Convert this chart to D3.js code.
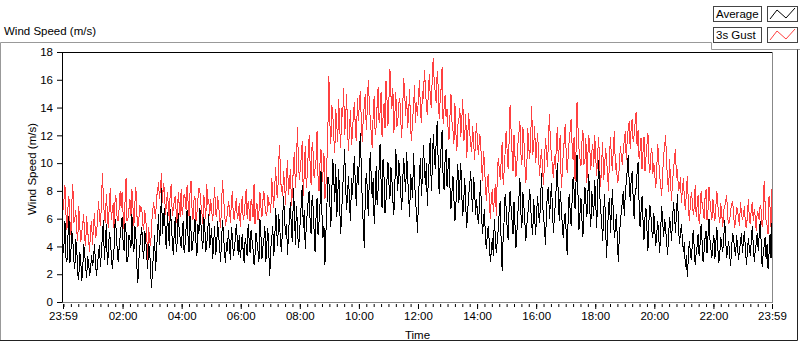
<!DOCTYPE html>
<html>
<head>
<meta charset="utf-8">
<script src="https://cdn.jsdelivr.net/npm/d3@7"></script>
<style>
  body { margin: 0; background: #fff; }
  svg text { font-family: "Liberation Sans", Arial, sans-serif; font-size: 11.5px; fill: #000; }
</style>
</head>
<body>
<div id="chart"></div>
<script>
// Wind speed log, one sample every 2 minutes from 23:59 to 23:59
var sampleMinutes = 2;

// Average wind speed (m/s), one row per hour
var avgSpeed = [
  3.5, 4.1, 5.8, 3.2, 2.9, 4.7, 6.2, 2.8, 3.6, 5.1, 4.4, 3.0, 2.4, 4.5, 3.8, 2.0, 1.6, 3.6, 3.1, 1.5, 2.2, 4.2, 3.5, 2.6, 1.7, 3.3, 2.8, 1.9, 2.3, 3.4,
  2.6, 3.1, 4.2, 2.8, 1.9, 2.7, 3.4, 4.1, 2.5, 3.6, 4.8, 5.9, 3.0, 4.3, 5.6, 2.7, 3.3, 5.0, 4.6, 3.5, 2.4, 3.2, 4.0, 6.0, 5.2, 3.8, 2.9, 3.9, 4.7, 5.5,
  6.1, 4.4, 3.7, 5.7, 5.0, 2.9, 3.2, 4.8, 4.5, 3.9, 6.3, 4.2, 3.6, 5.5, 4.9, 2.6, 1.4, 3.0, 3.9, 4.7, 5.4, 3.8, 3.1, 5.1, 4.6, 3.3, 2.4, 4.2, 3.8, 2.1,
  1.0, 2.6, 3.5, 4.8, 2.2, 3.7, 5.0, 6.3, 4.1, 5.4, 8.2, 4.9, 5.9, 6.8, 4.6, 3.8, 6.5, 5.2, 4.0, 6.7, 5.6, 4.4, 3.4, 5.0, 6.1, 3.6, 4.3, 6.4, 5.2, 4.6,
  3.9, 4.9, 5.8, 3.5, 4.2, 5.3, 6.6, 4.7, 3.6, 6.2, 5.1, 3.7, 4.4, 5.0, 6.0, 4.3, 3.3, 5.6, 4.9, 6.8, 5.7, 4.5, 3.8, 6.1, 5.4, 3.6, 4.1, 5.2, 6.3, 3.9,
  4.6, 5.3, 3.1, 4.2, 5.5, 3.4, 3.9, 5.8, 4.8, 4.0, 2.9, 4.4, 5.9, 4.9, 3.6, 2.8, 4.3, 3.7, 5.2, 4.1, 3.0, 5.4, 4.7, 3.3, 3.8, 4.6, 5.6, 4.5, 3.4, 4.8,
  3.2, 3.9, 4.9, 3.6, 2.8, 4.6, 4.1, 3.3, 5.6, 4.5, 3.5, 5.2, 4.4, 3.8, 2.7, 3.4, 5.0, 4.3, 3.7, 2.9, 6.0, 4.8, 3.1, 4.0, 4.5, 5.5, 2.9, 4.2, 5.3, 3.5,
  1.9, 3.8, 4.6, 5.5, 3.3, 4.4, 6.8, 5.1, 4.0, 6.3, 5.5, 4.2, 3.6, 5.9, 7.6, 6.1, 4.8, 5.6, 3.4, 4.9, 6.2, 7.2, 5.0, 4.3, 8.2, 6.6, 4.1, 6.9, 5.7, 3.9,
  4.5, 6.0, 7.1, 8.4, 5.3, 6.6, 3.8, 5.4, 6.4, 7.3, 8.0, 5.7, 4.9, 7.7, 6.8, 5.1, 3.6, 6.2, 7.5, 4.8, 5.8, 7.0, 9.4, 6.3, 4.6, 5.5, 2.7, 5.0, 6.9, 9.0,
  8.7, 7.1, 5.4, 8.0, 10.3, 8.8, 7.2, 9.9, 6.1, 7.6, 9.6, 6.8, 4.9, 6.4, 8.3, 9.2, 11.0, 8.5, 6.6, 7.9, 9.1, 7.0, 5.8, 8.9, 7.7, 9.4, 10.5, 8.1, 6.9, 9.8,
  8.4, 10.6, 12.2, 9.4, 7.0, 5.5, 3.9, 7.8, 9.3, 8.2, 6.2, 8.6, 10.8, 9.1, 7.5, 8.9, 5.6, 7.2, 9.8, 7.0, 8.1, 9.6, 11.4, 8.7, 6.8, 10.3, 9.0, 6.4, 7.3, 8.8,
  10.1, 8.5, 7.4, 9.7, 8.8, 7.3, 6.3, 8.4, 11.0, 9.3, 8.0, 10.2, 9.5, 7.8, 6.6, 8.7, 10.4, 9.0, 7.9, 10.8, 9.0, 7.7, 6.1, 9.2, 8.5, 7.5, 10.7, 8.9, 7.2, 6.5,
  5.0, 7.4, 9.2, 10.4, 7.6, 9.1, 11.3, 9.8, 8.4, 10.0, 6.9, 8.8, 10.5, 11.8, 8.0, 9.5, 12.1, 10.7, 9.6, 11.6, 13.0, 10.1, 7.8, 9.9, 11.2, 12.4, 9.0, 8.1, 10.2, 11.0,
  8.3, 9.6, 10.4, 8.2, 6.7, 7.9, 9.1, 7.4, 5.8, 7.0, 8.6, 9.9, 7.1, 8.5, 10.0, 7.6, 6.2, 7.3, 8.9, 6.9, 5.3, 6.6, 7.7, 8.4, 9.4, 7.8, 6.5, 9.0, 8.0, 6.3,
  7.4, 6.2, 5.6, 7.1, 8.8, 6.4, 4.9, 5.8, 6.7, 4.5, 3.8, 5.0, 5.5, 4.1, 2.9, 3.7, 4.6, 3.3, 6.0, 4.8, 3.5, 4.4, 5.2, 6.5, 7.3, 4.2, 2.2, 4.7, 5.9, 7.8,
  6.8, 5.4, 4.5, 6.6, 8.0, 6.9, 5.9, 4.9, 7.2, 5.6, 3.9, 5.1, 6.5, 7.5, 8.9, 6.4, 5.3, 7.9, 7.0, 5.8, 4.4, 5.5, 6.3, 7.1, 8.1, 6.7, 5.6, 4.8, 7.4, 6.1,
  4.8, 6.5, 7.6, 6.3, 5.7, 7.4, 9.3, 7.0, 6.2, 5.3, 4.1, 6.6, 7.9, 8.3, 6.0, 7.2, 8.6, 6.8, 5.0, 6.1, 7.1, 8.5, 10.0, 7.5, 5.8, 8.0, 6.9, 5.6, 4.6, 5.9,
  6.4, 5.0, 3.4, 6.0, 7.8, 6.6, 5.5, 7.3, 9.0, 8.1, 6.7, 8.7, 10.6, 7.7, 5.2, 6.4, 7.5, 5.9, 4.7, 6.9, 8.3, 7.2, 6.1, 7.8, 9.2, 6.6, 5.4, 8.0, 7.0, 6.2,
  8.8, 7.1, 5.3, 8.2, 10.2, 7.9, 6.6, 5.8, 4.4, 6.3, 7.8, 5.5, 3.2, 5.1, 6.9, 7.5, 5.0, 6.7, 8.1, 6.0, 4.6, 5.4, 6.3, 4.3, 2.9, 4.9, 5.7, 6.5, 7.2, 8.0,
  6.2, 7.7, 8.7, 9.5, 10.6, 8.6, 7.3, 8.8, 9.4, 7.5, 6.0, 7.9, 8.2, 9.3, 10.1, 7.2, 5.4, 6.5, 7.6, 5.9, 4.5, 6.1, 6.8, 5.2, 3.7, 5.8, 7.0, 6.3, 5.1, 4.6,
  6.4, 5.1, 4.0, 5.0, 5.8, 4.6, 3.5, 5.3, 6.9, 5.7, 4.7, 6.0, 5.3, 4.3, 3.4, 4.8, 6.1, 5.5, 4.4, 5.9, 7.2, 6.2, 5.0, 6.4, 7.8, 5.6, 4.2, 4.9, 5.6, 4.5,
  3.6, 4.3, 2.5, 3.4, 1.8, 3.1, 4.4, 3.7, 3.0, 4.1, 5.2, 3.9, 2.7, 3.5, 4.0, 4.9, 3.3, 4.2, 5.6, 4.4, 2.9, 3.6, 4.6, 5.1, 3.5, 4.7, 6.0, 4.5, 3.8, 3.2,
  4.2, 4.8, 3.1, 4.3, 5.4, 3.9, 2.8, 3.5, 4.7, 4.1, 3.6, 4.6, 5.9, 4.4, 3.2, 3.8, 4.4, 3.4, 2.6, 3.9, 5.0, 4.5, 3.9, 3.3, 4.8, 4.0, 3.0, 3.7, 4.3, 5.0,
  3.5, 4.4, 5.1, 3.8, 2.7, 3.6, 4.6, 3.9, 3.3, 4.5, 5.5, 4.1, 2.9, 3.7, 4.2, 5.0, 3.7, 4.8, 5.8, 4.3, 2.5, 3.4, 4.0, 4.7, 3.1, 4.2, 2.4, 3.5, 4.9, 3.2,
  5.7
];

// 3 second gust (m/s), one row per hour
var gustSpeed = [
  6.6, 7.4, 8.4, 6.3, 5.2, 6.8, 7.6, 5.9, 4.8, 7.2, 8.5, 5.7, 6.0, 6.6, 5.1, 4.4, 6.9, 5.5, 4.3, 5.0, 5.6, 6.3, 4.6, 4.0, 6.2, 5.1, 4.5, 3.6, 5.3, 5.8,
  4.1, 5.6, 6.4, 4.6, 4.9, 5.8, 7.3, 6.2, 5.5, 7.0, 9.3, 7.6, 6.1, 5.7, 7.8, 6.5, 5.3, 6.9, 8.2, 5.9, 6.6, 7.1, 4.9, 7.7, 7.4, 6.0, 5.8, 6.7, 8.0, 6.8,
  7.9, 6.4, 5.2, 7.3, 8.9, 5.8, 6.0, 6.7, 7.4, 6.2, 8.1, 6.9, 5.5, 7.1, 8.3, 6.3, 5.4, 5.9, 7.0, 6.5, 6.8, 5.6, 5.2, 6.6, 6.0, 4.9, 3.0, 5.4, 4.4, 4.0,
  5.6, 6.5, 7.2, 6.6, 6.0, 7.5, 8.0, 8.6, 7.4, 8.2, 9.3, 7.1, 8.6, 8.1, 6.3, 7.0, 7.9, 6.9, 5.8, 8.3, 8.4, 6.2, 6.7, 7.3, 7.6, 6.4, 5.5, 7.9, 7.0, 6.1,
  8.1, 6.3, 6.9, 7.8, 7.5, 6.6, 8.4, 7.2, 6.2, 7.9, 8.7, 6.8, 5.9, 7.3, 7.6, 5.8, 6.4, 7.4, 8.2, 8.0, 7.1, 6.5, 5.6, 7.7, 7.0, 6.0, 8.5, 7.0, 7.4, 6.2,
  7.4, 6.6, 5.8, 7.0, 8.3, 6.4, 6.1, 7.6, 7.0, 6.2, 5.3, 6.9, 8.8, 7.5, 6.6, 5.5, 6.0, 6.3, 7.3, 6.7, 5.7, 7.2, 8.0, 6.1, 5.9, 6.8, 7.5, 6.0, 6.3, 7.1,
  5.4, 6.7, 7.6, 5.9, 6.3, 7.2, 8.1, 6.0, 7.3, 6.6, 5.8, 7.4, 7.0, 6.1, 8.5, 5.6, 6.7, 7.1, 5.9, 6.5, 7.9, 6.8, 6.1, 7.3, 8.0, 7.0, 6.4, 6.2, 7.7, 6.9,
  7.2, 6.4, 8.9, 7.9, 6.8, 8.3, 9.7, 7.8, 7.5, 10.1, 11.3, 8.7, 8.1, 7.6, 9.4, 8.5, 7.0, 9.1, 10.2, 7.7, 8.6, 9.6, 6.9, 8.0, 9.9, 10.8, 8.2, 9.5, 12.6, 10.4,
  8.8, 9.6, 10.5, 11.6, 7.6, 9.3, 11.2, 8.2, 9.1, 10.6, 12.0, 9.8, 8.4, 11.5, 10.8, 8.9, 9.6, 10.3, 12.3, 9.0, 8.0, 10.0, 11.0, 8.6, 9.3, 10.7, 7.4, 8.3, 10.1, 12.4,
  16.3, 12.9, 11.4, 14.2, 13.5, 11.8, 10.7, 13.9, 12.8, 11.5, 14.6, 12.5, 11.1, 14.0, 13.3, 15.4, 12.0, 13.1, 15.0, 12.3, 10.9, 12.7, 13.8, 11.3, 12.2, 13.6, 14.4, 12.1, 11.6, 14.7,
  13.0, 14.4, 15.2, 12.8, 11.5, 13.4, 14.1, 15.0, 12.4, 13.8, 16.0, 14.5, 13.2, 12.2, 11.1, 13.6, 14.8, 12.0, 12.6, 14.2, 15.5, 12.9, 13.7, 15.1, 11.9, 13.3, 14.3, 12.5, 15.9, 14.6,
  12.7, 14.6, 16.8, 14.9, 13.9, 15.4, 12.2, 13.5, 15.1, 12.6, 13.0, 14.3, 14.7, 13.1, 11.8, 14.1, 16.1, 15.0, 13.4, 14.8, 12.5, 13.6, 15.3, 12.4, 11.6, 13.2, 14.0, 15.6, 12.9, 14.4,
  13.4, 14.8, 16.0, 13.7, 12.9, 15.2, 14.6, 16.7, 15.6, 14.1, 13.5, 15.0, 16.4, 14.7, 14.0, 16.2, 17.6, 15.8, 15.1, 14.3, 16.6, 15.5, 13.2, 14.5, 15.4, 16.9, 12.8, 14.0, 14.9, 13.3,
  13.9, 12.6, 11.7, 13.4, 15.0, 13.0, 12.4, 11.4, 14.3, 12.2, 10.9, 12.8, 13.1, 14.0, 11.9, 13.2, 14.6, 11.6, 12.0, 13.5, 10.4, 11.9, 13.6, 12.3, 11.3, 10.8, 12.7, 11.5, 10.2, 11.9,
  12.9, 11.2, 10.6, 12.1, 11.8, 9.9, 8.7, 10.9, 10.1, 8.2, 7.3, 8.9, 9.2, 7.1, 6.0, 7.6, 8.1, 6.5, 7.4, 8.5, 6.2, 9.0, 10.4, 9.6, 8.8, 10.2, 11.5, 8.4, 9.4, 10.8,
  12.3, 10.9, 9.6, 11.5, 14.2, 12.4, 10.8, 9.4, 12.0, 10.5, 9.0, 10.1, 11.4, 12.2, 13.0, 10.7, 9.9, 12.6, 11.7, 10.0, 8.6, 9.7, 12.5, 11.1, 10.3, 12.0, 14.1, 10.6, 11.2, 12.7,
  10.0, 11.1, 12.2, 10.4, 9.1, 10.3, 11.0, 9.5, 8.4, 10.2, 11.8, 10.8, 9.7, 11.7, 13.5, 11.4, 10.6, 9.8, 8.9, 10.5, 9.6, 11.2, 12.6, 10.1, 11.3, 12.0, 8.2, 9.3, 10.7, 11.6,
  12.8, 10.7, 9.3, 10.5, 11.6, 12.3, 13.2, 11.3, 10.2, 11.9, 8.7, 10.9, 14.4, 12.5, 11.0, 10.3, 9.8, 11.5, 12.4, 9.9, 10.1, 11.8, 8.6, 10.6, 12.0, 11.0, 9.5, 10.8, 11.4, 9.7,
  12.0, 10.4, 9.1, 10.7, 11.9, 9.6, 8.3, 10.0, 11.5, 8.8, 9.7, 11.1, 10.3, 9.2, 8.0, 10.6, 11.9, 10.2, 9.4, 11.4, 12.3, 9.5, 10.0, 8.6, 8.8, 9.8, 11.2, 10.5, 9.9, 11.0,
  11.6, 12.3, 10.2, 11.7, 12.5, 13.0, 11.0, 12.6, 13.2, 11.5, 12.0, 12.9, 13.7, 11.2, 12.4, 10.3, 10.9, 11.8, 9.6, 10.8, 11.9, 9.4, 10.4, 11.3, 12.2, 10.0, 9.3, 10.7, 11.1, 9.2,
  10.0, 9.1, 8.2, 9.7, 11.4, 10.2, 9.0, 8.4, 7.6, 9.3, 10.6, 11.2, 12.0, 9.9, 8.8, 7.9, 10.3, 8.6, 7.3, 8.7, 9.5, 10.4, 11.0, 8.9, 9.6, 8.0, 8.2, 9.0, 7.1, 8.1,
  8.9, 7.5, 6.6, 7.8, 9.1, 7.2, 5.8, 6.9, 7.9, 7.4, 6.3, 6.8, 8.4, 6.1, 7.0, 7.7, 5.6, 6.4, 8.0, 7.1, 6.7, 6.0, 7.5, 8.1, 5.9, 6.6, 8.3, 7.3, 6.5, 5.9,
  7.4, 6.5, 5.8, 6.9, 8.0, 7.0, 6.2, 5.7, 7.1, 6.3, 5.4, 6.6, 6.9, 7.3, 7.7, 6.1, 5.6, 5.9, 6.6, 7.0, 7.3, 6.4, 5.3, 5.8, 6.8, 6.7, 6.0, 5.5, 7.2, 6.4,
  5.9, 6.3, 6.9, 5.6, 5.3, 6.2, 7.4, 6.0, 5.6, 6.8, 7.2, 5.8, 6.7, 6.1, 5.1, 6.5, 6.4, 5.9, 7.0, 6.6, 5.4, 6.0, 8.7, 7.1, 5.8, 5.5, 4.9, 7.6, 6.8, 5.4,
  8.1
];

var seriesNames = ["Average", "3s Gust"];
var seriesColors = ["#000000", "#ff4040"];
var yTicks = [0, 2, 4, 6, 8, 10, 12, 14, 16, 18];
var xTickLabels = ["23:59", "02:00", "04:00", "06:00", "08:00", "10:00", "12:00",
                   "14:00", "16:00", "18:00", "20:00", "22:00", "23:59"];

var svgWidth = 800;
var svgHeight = 342;
var plot = { left: 63, right: 772, top: 52, bottom: 302 };

var svg = d3.select("#chart").append("svg")
    .attr("width", svgWidth)
    .attr("height", svgHeight);

// time axis runs from 23:59 the day before to 23:59
var tStart = new Date(2000, 0, 1, 23, 59);
var tEnd = new Date(2000, 0, 2, 23, 59);
var parseHM = d3.timeParse("%H:%M");

var xTickDates = xTickLabels.map(function(s, i) {
    if (i === 0) return tStart;
    if (i === xTickLabels.length - 1) return tEnd;
    var p = parseHM(s);
    return new Date(2000, 0, 2, p.getHours(), p.getMinutes());
});

var xScale = d3.scaleTime().domain([tStart, tEnd]).range([plot.left, plot.right]);
var yScale = d3.scaleLinear().domain([0, 18]).range([plot.bottom, plot.top]);

function toPoints(values) {
    return values.map(function(v, i) {
        return { time: d3.timeMinute.offset(tStart, i * sampleMinutes), value: v };
    });
}

// outer panel frame (notched round the legend)
svg.append("path")
    .attr("d", "M0.5,341 V42.5 H711.5 V49.5 H800")
    .attr("fill", "none").attr("stroke", "#999");
svg.append("path")
    .attr("d", "M0,340.5 H797.5 V49.5")
    .attr("fill", "none").attr("stroke", "#222");

// title
svg.append("text").attr("x", 4).attr("y", 35).text("Wind Speed (m/s)");

// plot frame: top black, right and bottom grey
svg.append("line")
    .attr("x1", plot.left - 1).attr("x2", plot.right + 1)
    .attr("y1", plot.top + 0.5).attr("y2", plot.top + 0.5)
    .attr("stroke", "#000");
svg.append("line")
    .attr("x1", plot.right + 0.5).attr("x2", plot.right + 0.5)
    .attr("y1", plot.top).attr("y2", plot.bottom + 1)
    .attr("stroke", "#888");
svg.append("line")
    .attr("x1", plot.left - 1).attr("x2", plot.right + 1)
    .attr("y1", plot.bottom + 0.5).attr("y2", plot.bottom + 0.5)
    .attr("stroke", "#888");

// series lines, gust underneath
var line = d3.line()
    .x(function(d) { return xScale(d.time); })
    .y(function(d) { return yScale(d.value); });

var plotGroup = svg.append("g");
[gustSpeed, avgSpeed].forEach(function(values, k) {
    plotGroup.append("path")
        .datum(toPoints(values))
        .attr("d", line)
        .attr("fill", "none")
        .attr("stroke", k === 0 ? seriesColors[1] : seriesColors[0])
        .attr("stroke-width", 1)
        .attr("shape-rendering", "crispEdges");
});

// y axis
var yAxis = d3.axisLeft(yScale).tickValues(yTicks).tickSize(5).tickSizeOuter(0).tickPadding(4);
var yAxisG = svg.append("g").attr("transform", "translate(" + (plot.left - 1) + ",0)").call(yAxis);
yAxisG.select(".domain").attr("stroke", "#000");

// x axis: minor ticks every 15 min, labelled ticks every 2 h
var minorTicks = d3.timeMinute.every(15).range(tStart, tEnd);
var xMinor = d3.axisBottom(xScale).tickValues(minorTicks).tickSize(3).tickFormat("");
var xMinorG = svg.append("g").attr("transform", "translate(0," + (plot.bottom + 2) + ")").call(xMinor);
xMinorG.select(".domain").remove();

var xAxis = d3.axisBottom(xScale).tickValues(xTickDates).tickSize(5).tickPadding(3)
    .tickFormat(function(d, i) { return xTickLabels[i]; });
var xAxisG = svg.append("g").attr("transform", "translate(0," + (plot.bottom + 2) + ")").call(xAxis);
xAxisG.select(".domain").remove();
svg.selectAll(".tick text").attr("font-family", null).attr("font-size", null);

// axis titles
svg.append("text")
    .attr("transform", "translate(36," + 169 + ") rotate(-90)")
    .attr("text-anchor", "middle")
    .text("Wind Speed (m/s)");
svg.append("text")
    .attr("x", (plot.left + plot.right) / 2)
    .attr("y", 339)
    .attr("text-anchor", "middle")
    .text("Time");

// legend
var legend = svg.append("g").attr("transform", "translate(713,6)");
seriesNames.forEach(function(name, i) {
    var row = legend.append("g").attr("transform", "translate(0," + (i * 21) + ")");
    row.append("rect")
        .attr("x", 0.5).attr("y", 0.5).attr("width", 48).attr("height", 15)
        .attr("fill", "#fff").attr("stroke", "#444");
    row.append("text").attr("x", 3).attr("y", 12).text(name);
    row.append("rect")
        .attr("x", 54.5).attr("y", 0.5).attr("width", 30).attr("height", 15)
        .attr("fill", "#fff").attr("stroke", "#444");
    row.append("path")
        .attr("d", "M57,13 L64,4 L73,12 L82,2")
        .attr("fill", "none")
        .attr("stroke", seriesColors[i]);
});
</script>
</body>
</html>
